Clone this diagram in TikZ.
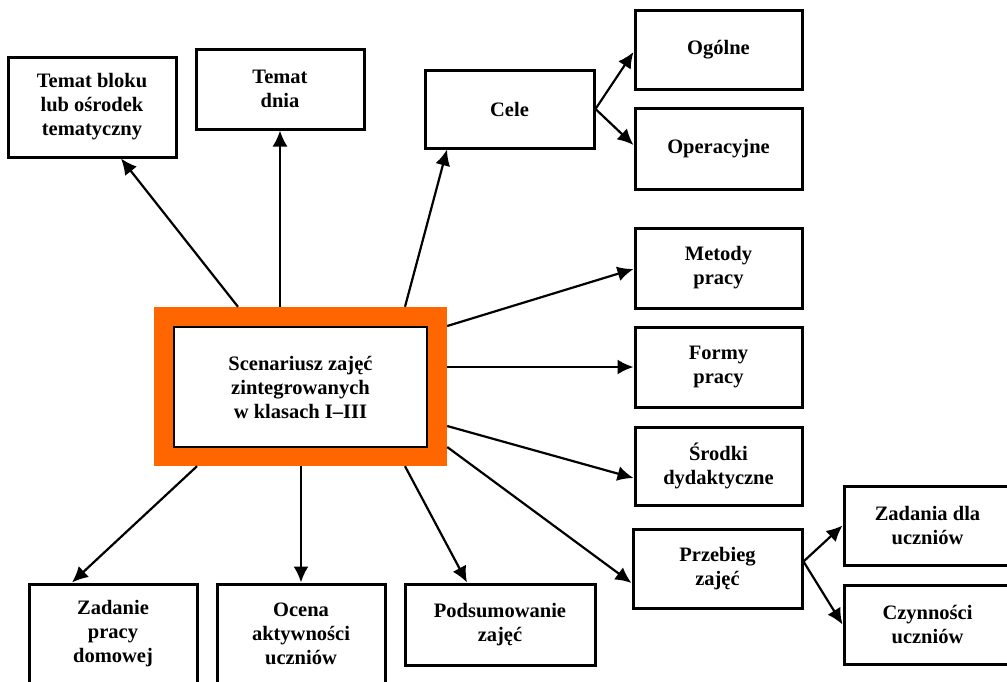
\documentclass[tikz,border=0pt]{standalone}
\usepackage{fontspec}
\setmainfont{Liberation Serif}
\usetikzlibrary{arrows.meta}
\definecolor{orng}{HTML}{FF6600}
\begin{document}
\begin{tikzpicture}[x=1pt,y=-1pt,
  box/.style={draw, line width=3pt, fill=white, align=center, inner sep=0pt,
    font=\bfseries\fontsize{20.5}{24}\selectfont},
  arr/.style={line width=2.2pt, -{Latex[length=16pt,width=15pt]}}]
\useasboundingbox (0,0) rectangle (1007,681);
\clip (0,0) rectangle (1007,681);
% central
\node[fill=orng, minimum width=293, minimum height=159, inner sep=0pt] (outer) at (300.5,386.5) {};
\node[box, line width=2.6pt, minimum width=253, minimum height=120] (inner) at (300.5,387) {Scenariusz zajęć\\zintegrowanych\\w klasach I–III};
% boxes
\node[box, minimum width=168, minimum height=100] (tb) at (92,107) {Temat bloku\\lub ośrodek\\tematyczny};
\node[box, minimum width=168, minimum height=80] (td) at (280,89) {Temat\\dnia};
\node[box, minimum width=169, minimum height=78] (cele) at (509.5,109) {Cele};
\node[box, minimum width=167, minimum height=79] (og) at (718.5,49.5) {Ogólne};
\node[box, minimum width=167, minimum height=81] (op) at (718.5,148.5) {Operacyjne};
\node[box, minimum width=167, minimum height=80] (met) at (718.5,268) {Metody\\pracy};
\node[box, minimum width=167, minimum height=80] (fo) at (718.5,367) {Formy\\pracy};
\node[box, minimum width=167, minimum height=78] (sr) at (718.5,466) {Środki\\dydaktyczne};
\node[box, minimum width=169, minimum height=79] (pr) at (717.5,568.5) {Przebieg\\zajęć};
\node[box, minimum width=167, minimum height=79] (zd) at (927.5,525.5) {Zadania dla\\uczniów};
\node[box, minimum width=167, minimum height=79] (cz) at (927.5,624.5) {Czynności\\uczniów};
\node[box, minimum width=168, minimum height=100] (zad) at (113,634) {Zadanie\\pracy\\domowej};
\node[box, minimum width=168, minimum height=100] (oc) at (301,634) {Ocena\\aktywności\\uczniów};
\node[box, minimum width=190, minimum height=81] (pod) at (500,624.5) {Podsumowanie\\zajęć};
% connectors
\draw[arr] ([xshift=-62.5pt]outer.north) -- ([xshift=29pt]tb.south);
\draw[arr] (td.south |- outer.north) -- (td.south);
\draw[arr] ([xshift=104.5pt]outer.north) -- ([xshift=-62.5pt]cele.south);
\draw[arr] (cele.east) -- ([yshift=-2.5pt]og.west);
\draw[arr] (cele.east) -- ([yshift=3.5pt]op.west);
\draw[arr] ([yshift=60.5pt]outer.east) -- ([yshift=-1pt]met.west);
\draw[arr] ([yshift=19.5pt]outer.east) -- (fo.west);
\draw[arr] ([yshift=-39.5pt]outer.east) -- ([yshift=-12pt]sr.west);
\draw[arr] ([yshift=-60.5pt]outer.east) -- ([yshift=-14.5pt]pr.west);
\draw[arr] ([yshift=7pt]pr.east) -- (zd.west);
\draw[arr] ([yshift=7pt]pr.east) -- (cz.west);
\draw[arr] ([xshift=-103.5pt]outer.south) -- ([xshift=-41pt]zad.north);
\draw[arr] (oc.north |- outer.south) -- (oc.north);
\draw[arr] ([xshift=104.5pt]outer.south) -- ([xshift=-33pt]pod.north);
\end{tikzpicture}
\end{document}
